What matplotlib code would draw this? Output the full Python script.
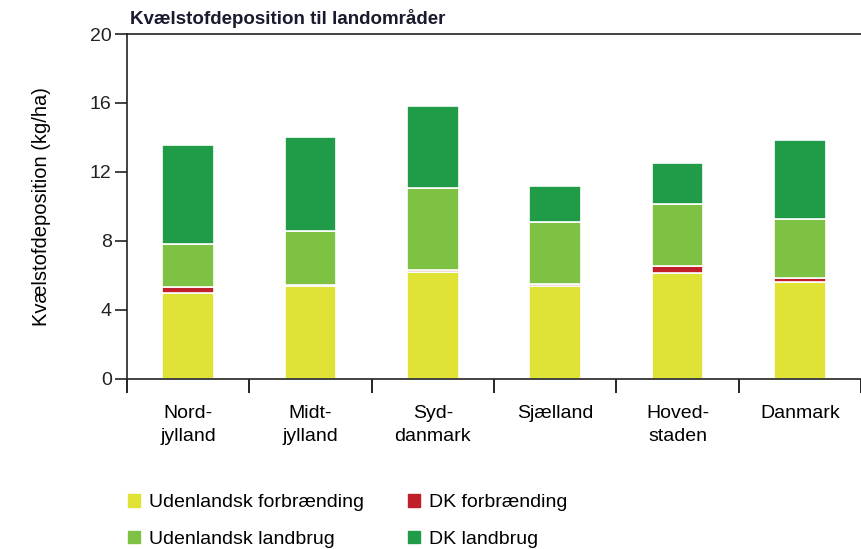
import numpy as np
import matplotlib.pyplot as plt
from matplotlib.patches import Patch

plt.rcParams['font.family'] = ['Liberation Sans', 'DejaVu Sans']

# data (kg/ha)
regioner = ['Nord-\njylland', 'Midt-\njylland', 'Syd-\ndanmark', 'Sjælland', 'Hoved-\nstaden', 'Danmark']
udl_forbr = [5.0, 5.4, 6.2, 5.4, 6.15, 5.6]
dk_forbr = [0.3, 0.05, 0.1, 0.1, 0.4, 0.25]
udl_landbrug = [2.5, 3.1, 4.75, 3.6, 3.6, 3.4]
dk_landbrug = [5.75, 5.45, 4.75, 2.1, 2.35, 4.6]

navne = ['Udenlandsk forbrænding', 'DK forbrænding', 'Udenlandsk landbrug', 'DK landbrug']
farver = ['#e1e236', '#c0202a', '#7dc243', '#209c48']

fig = plt.figure(figsize=(8.61, 5.49), dpi=100)
ax = fig.add_axes([0.1475, 0.31, 0.8525, 0.628])

x = np.arange(len(regioner))
bund = np.zeros(len(regioner))
for vals, c in zip([udl_forbr, dk_forbr, udl_landbrug, dk_landbrug], farver):
    ax.bar(x, vals, width=0.42, bottom=bund, color=c, edgecolor='white', linewidth=1.2)
    bund += np.array(vals)

ax.set_xlim(-0.5, len(regioner) - 0.5)
ax.set_ylim(0, 20)
ax.set_yticks([0, 4, 8, 12, 16, 20])
ax.tick_params(axis='y', direction='out', length=9, width=1.2, labelsize=14, pad=2, colors='#222222')
ax.set_xticks(np.arange(len(regioner) + 1) - 0.5)
ax.set_xticklabels([])
ax.set_xticks(x, minor=True)
ax.set_xticklabels(regioner, minor=True, fontsize=14, linespacing=1.45)
ax.tick_params(axis='x', which='major', direction='out', length=10, width=1.2)
ax.tick_params(axis='x', which='minor', length=0, pad=19)
for s in ['left', 'bottom', 'top']:
    ax.spines[s].set_linewidth(1.2)
    ax.spines[s].set_color('#222222')
ax.spines['right'].set_visible(False)

ax.set_ylabel('Kvælstofdeposition (kg/ha)', fontsize=14.5, labelpad=28)
fig.text(0.151, 0.966, 'Kvælstofdeposition til landområder', fontsize=13.5, fontweight='bold',
         color='#1a1a2e', va='center')

handles = [Patch(color=farver[0]), Patch(color=farver[2]), Patch(color=farver[1]), Patch(color=farver[3])]
labels = [navne[0], navne[2], navne[1], navne[3]]
fig.legend(handles, labels, ncol=2, loc='upper left', bbox_to_anchor=(0.14, 0.114),
           frameon=False, fontsize=14, handlelength=0.62, handleheight=0.62,
           handletextpad=0.45, columnspacing=2.25, labelspacing=1.0, borderaxespad=0)

fig.savefig('out.png', dpi=100)
